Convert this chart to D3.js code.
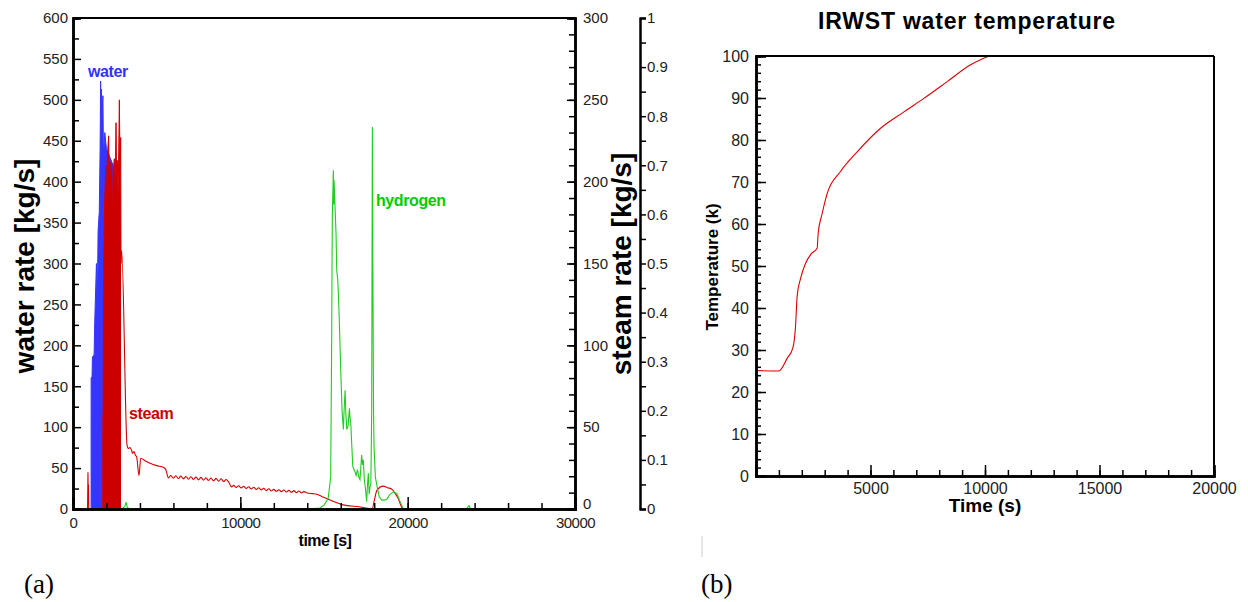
<!DOCTYPE html>
<html>
<head>
<meta charset="utf-8">
<script src="https://cdn.jsdelivr.net/npm/d3@7"></script>
<style>
  body { margin: 0; background: #fff; }
  svg { font-family: "Liberation Sans", Arial, sans-serif; }
  .tick text { font-size: 15px; fill: #222; }
  .axis path, .axis line { stroke: #000; }
</style>
</head>
<body>
<div class="vis"></div>
<script>
(function() {
  'use strict';

  // ---- chart (a) data: [time s, value] ----
  // water rate, left axis (kg/s)
  var water = [[1000,0],[1080,0],[1085,160],[1140,162],[1160,186],[1260,188],[1300,230],[1400,300],
    [1450,250],[1500,340],[1570,363],[1620,440],[1650,523],[1680,480],[1700,513],[1740,470],
    [1760,495],[1790,505],[1820,430],[1900,460],[2000,440],[2200,430],[2400,420],[2600,400],
    [2800,380],[2830,0]];

  // steam rate, right axis (kg/s)
  var steam = [[870,0],[895,22.5],[910,8],[925,15],[945,0],[1790,0],[1800,59],[1830,150],
    [1900,190],[1960,210],[2000,185],[2050,215],[2130,228],[2170,200],[2210,212],[2260,195],
    [2310,211],[2360,180],[2410,207],[2470,214],[2520,195],[2570,236],[2610,200],[2650,213],
    [2700,190],[2770,250],[2810,210],[2850,227],[2870,150],[2910,158],[3230,39],[3300,37],
    [3400,37.5],[3500,36],[3560,34],[3620,35],[3660,35],[3720,33],[3800,32],[3945,20.5],
    [4045,31],[4300,29.5],[4600,28],[5000,26.5],[5400,25.5],[5550,24],[5700,19],[5850,20.5],
    [6000,18.8],[6150,20.3],[6300,18.6],[6450,20.1],[6600,18.4],[6750,19.9],[6900,18.2],
    [7050,19.7],[7200,18],[7350,19.5],[7500,17.8],[7650,19.3],[7800,17.6],[7950,19.1],
    [8100,17.4],[8250,18.9],[8400,17.2],[8550,18.7],[8700,17],[8850,18.5],[9000,16.8],
    [9150,18],[9300,16.5],[9480,13.5],[9600,14.5],[9750,13.2],[9900,14.2],[10050,12.9],
    [10200,13.9],[10350,12.6],[10500,13.6],[10650,12.3],[10800,13.3],[10950,12],[11100,13],
    [11250,11.7],[11400,12.7],[11550,11.2],[11700,12.4],[11850,11],[12000,12],[12150,10.8],
    [12300,11.8],[12450,10.6],[12600,11.6],[12750,10.4],[12900,11.4],[13050,10.2],[13200,11.2],
    [13350,10],[13500,11],[13650,9.8],[13800,10.6],[14000,9.8],[14300,9.4],[14570,9],
    [14900,7.5],[15360,5.5],[16140,2.5],[17150,1.25],[17880,0],[18000,5],[18170,11.5],
    [18530,14],[18800,13],[19070,12],[19250,9.5],[19430,6.5],[19600,2],[19730,0],[30000,0]];

  // hydrogen rate, third axis
  var hydrogen = [[2900,0],[3100,0.005],[3170,0.014],[3250,0.003],[3400,0],[14000,0],
    [14760,0.002],[15000,0.008],[15250,0.022],[15400,0.065],[15460,0.35],[15480,0.5],
    [15500,0.6],[15560,0.69],[15580,0.62],[15600,0.67],[15660,0.615],[15720,0.56],
    [15760,0.487],[15820,0.467],[15870,0.43],[15920,0.378],[16000,0.283],[16080,0.2],
    [16160,0.162],[16200,0.2],[16260,0.242],[16300,0.2],[16360,0.162],[16440,0.17],
    [16520,0.205],[16560,0.185],[16600,0.175],[16660,0.13],[16720,0.087],[16800,0.08],
    [16860,0.075],[16920,0.068],[17000,0.08],[17080,0.065],[17150,0.06],[17200,0.085],
    [17250,0.11],[17300,0.09],[17350,0.1],[17410,0.06],[17480,0.04],[17550,0.015],
    [17600,0.05],[17650,0.073],[17700,0.03],[17750,0.045],[17800,0.05],[17850,0.2],
    [17890,0.778],[17920,0.5],[17960,0.2],[17990,0.127],[18070,0.065],[18190,0.043],
    [18300,0.025],[18450,0.018],[18600,0.018],[18750,0.02],[18950,0.03],[19150,0.035],
    [19350,0.032],[19550,0.015],[19740,0],[23500,0],[23670,0.007],[23750,0]];

  // ---- chart (b) data: IRWST water temperature ----
  var tempTime = [0,995,1360,1610,1725,1800,1945,2160,2410,2670,2715,2890,3110,3690,4420,
    5440,6460,7330,8350,9370,10170];
  var tempValue = [25.1,25,28,30.5,35.5,43,47,50.6,52.9,54.2,57.8,62.5,67.3,72.5,77.2,
    82.8,86.7,89.9,93.9,97.9,100];

  var xTicksA = [0,10000,20000,30000];
  var yTicksWater = d3.range(0,601,50);
  var yTicksSteam = d3.range(0,301,50);
  var yTicksH2 = d3.range(0,1.01,0.1);
  var xTicksB = [5000,10000,15000,20000];
  var yTicksB = d3.range(0,101,10);

  var svg = d3.select('.vis').append('svg')
    .attr('width', 1248)
    .attr('height', 602);

  // ================= chart (a) =================
  var a = {left: 73, right: 575, top: 18, bottom: 509};
  var x = d3.scaleLinear().domain([0,30000]).range([a.left, a.right]);
  var yW = d3.scaleLinear().domain([0,600]).range([a.bottom, a.top]);
  var yS = d3.scaleLinear().domain([0,300]).range([a.bottom, a.top]);
  var yH = d3.scaleLinear().domain([0,1]).range([a.bottom, a.top]);

  svg.append('defs').append('clipPath').attr('id', 'clipA')
    .append('rect').attr('x', a.left).attr('y', a.top)
    .attr('width', a.right - a.left).attr('height', a.bottom - a.top);

  var plotA = svg.append('g').attr('clip-path', 'url(#clipA)');

  var areaW = d3.area().x(function(d) { return x(d[0]); })
    .y0(yW(0)).y1(function(d) { return yW(d[1]); });
  var lineW = d3.line().x(function(d) { return x(d[0]); }).y(function(d) { return yW(d[1]); });
  plotA.append('path').datum(water).attr('d', areaW).attr('fill', '#3535ff');
  plotA.append('path').datum(water).attr('d', lineW).attr('fill', 'none')
    .attr('stroke', '#3535ff').attr('stroke-width', 1);

  var burst = steam.filter(function(d) { return d[0] >= 1790 && d[0] <= 2870; });
  var tail = steam.filter(function(d) { return d[0] >= 2870; });
  var early = steam.filter(function(d) { return d[0] <= 1800; });
  var areaS = d3.area().x(function(d) { return x(d[0]); })
    .y0(yS(0)).y1(function(d) { return yS(d[1]); });
  var lineS = d3.line().x(function(d) { return x(d[0]); }).y(function(d) { return yS(d[1]); });
  plotA.append('path').datum(burst).attr('d', areaS).attr('fill', '#cc0000');
  plotA.append('path').datum(burst).attr('d', lineS).attr('fill', 'none')
    .attr('stroke', '#d40000').attr('stroke-width', 1);
  plotA.append('path').datum(early).attr('d', lineS).attr('fill', 'none')
    .attr('stroke', '#d40000').attr('stroke-width', 1.1);
  plotA.append('path').datum(tail).attr('d', lineS.curve(d3.curveMonotoneX)).attr('fill', 'none')
    .attr('stroke', '#d40000').attr('stroke-width', 1.1);

  var lineH = d3.line().x(function(d) { return x(d[0]); }).y(function(d) { return yH(d[1]); });
  plotA.append('path').datum(hydrogen).attr('d', lineH).attr('fill', 'none')
    .attr('stroke', '#1fcc1f').attr('stroke-width', 1.1);

  // frame top
  svg.append('line').attr('x1', a.left).attr('x2', a.right).attr('y1', a.top).attr('y2', a.top)
    .attr('stroke', '#000').attr('stroke-width', 2);

  function fmt(d) { return d3.format('~g')(+d.toFixed(2)); }

  // left axis
  var gl = svg.append('g').attr('class', 'axis').attr('transform', 'translate(' + a.left + ',0)');
  gl.call(d3.axisLeft(yW).tickValues(d3.range(25,600,50)).tickSize(-6).tickFormat(''));
  gl.append('g').call(d3.axisLeft(yW).tickValues(yTicksWater).tickSize(-8).tickPadding(5).tickFormat(fmt));
  gl.selectAll('path.domain').attr('stroke-width', 2.5);
  gl.selectAll('line').attr('stroke-width', 1.5);

  // bottom axis
  var gb = svg.append('g').attr('class', 'axis').attr('transform', 'translate(0,' + a.bottom + ')');
  gb.call(d3.axisBottom(x).tickValues(d3.range(2000,30000,2000)).tickSize(-6).tickFormat(''));
  gb.append('g').call(d3.axisBottom(x).tickValues(xTicksA).tickSize(-12).tickPadding(5).tickFormat(fmt));
  gb.selectAll('path.domain').attr('stroke-width', 2.5);
  gb.selectAll('line').attr('stroke-width', 1.5);
  gb.selectAll('.tick text').attr('dy', '0.9em').attr('letter-spacing', '-0.5px');

  // right axis (steam)
  var gr = svg.append('g').attr('class', 'axis').attr('transform', 'translate(' + a.right + ',0)');
  gr.call(d3.axisRight(yS).tickValues(d3.range(0,300,10)).tickSize(-6).tickFormat(''));
  gr.append('g').call(d3.axisRight(yS).tickValues(yTicksSteam).tickSize(-8).tickPadding(8).tickFormat(fmt));
  gr.selectAll('path.domain').attr('stroke-width', 2.5);
  gr.selectAll('line').attr('stroke-width', 1.5);
  // keep the "0" clear of the "30000" below it
  gr.selectAll('.tick text').filter(function(d) { return d === 0; }).attr('dy', '-0.05em');

  // third axis (hydrogen)
  var gh = svg.append('g').attr('class', 'axis').attr('transform', 'translate(640,0)');
  gh.call(d3.axisRight(yH).tickValues(d3.range(0.05,1,0.1)).tickSize(6).tickFormat(''));
  gh.append('g').call(d3.axisRight(yH).tickValues(yTicksH2).tickSize(6).tickPadding(1).tickFormat(fmt));
  gh.selectAll('path.domain').attr('stroke-width', 2);
  gh.selectAll('line').attr('stroke-width', 1.5);

  // titles
  svg.append('text').attr('transform', 'translate(34,266) rotate(-90)')
    .attr('text-anchor', 'middle').attr('font-size', 28).attr('font-weight', 'bold')
    .text('water rate [kg/s]');
  svg.append('text').attr('transform', 'translate(631,264) rotate(-90)')
    .attr('text-anchor', 'middle').attr('font-size', 28).attr('font-weight', 'bold')
    .text('steam rate [kg/s]');
  svg.append('text').attr('x', 325).attr('y', 546).attr('text-anchor', 'middle')
    .attr('font-size', 16).attr('font-weight', 'bold').attr('letter-spacing', '-0.5px').text('time [s]');

  svg.append('text').attr('x', 88).attr('y', 77).attr('font-size', 16).attr('font-weight', 'bold')
    .attr('letter-spacing', '-0.4px').attr('fill', '#3333ff').text('water');
  svg.append('text').attr('x', 129).attr('y', 419).attr('font-size', 16).attr('font-weight', 'bold')
    .attr('letter-spacing', '-0.4px').attr('fill', '#cc0000').text('steam');
  svg.append('text').attr('x', 376).attr('y', 206).attr('font-size', 16).attr('font-weight', 'bold')
    .attr('letter-spacing', '-0.4px').attr('fill', '#00cc00').text('hydrogen');

  // ================= chart (b) =================
  var b = {left: 756, right: 1214, top: 56, bottom: 476};
  var xb = d3.scaleLinear().domain([0,20000]).range([b.left, b.right]);
  var yb = d3.scaleLinear().domain([0,100]).range([b.bottom, b.top]);

  var temp = tempTime.map(function(t, i) { return [t, tempValue[i]]; });
  svg.append('path').datum(temp)
    .attr('d', d3.line().curve(d3.curveMonotoneX)
      .x(function(d) { return xb(d[0]); }).y(function(d) { return yb(d[1]); }))
    .attr('fill', 'none').attr('stroke', '#dd0000').attr('stroke-width', 1.1);

  svg.append('line').attr('x1', b.left).attr('x2', b.right).attr('y1', b.top).attr('y2', b.top)
    .attr('stroke', '#000').attr('stroke-width', 2);
  svg.append('line').attr('x1', b.right).attr('x2', b.right).attr('y1', b.top).attr('y2', b.bottom)
    .attr('stroke', '#000').attr('stroke-width', 2);

  var gbl = svg.append('g').attr('class', 'axis').attr('transform', 'translate(' + b.left + ',0)');
  gbl.call(d3.axisLeft(yb).tickValues(d3.range(2,100,2)).tickSize(-5).tickFormat(''));
  gbl.append('g').call(d3.axisLeft(yb).tickValues(yTicksB).tickSize(-10).tickPadding(7).tickFormat(fmt));
  gbl.selectAll('path.domain').attr('stroke-width', 2.5);
  gbl.selectAll('line').attr('stroke-width', 1.5);
  gbl.selectAll('.tick text').style('font-size', '16px');

  var gbb = svg.append('g').attr('class', 'axis').attr('transform', 'translate(0,' + b.bottom + ')');
  gbb.call(d3.axisBottom(xb).tickValues(d3.range(1000,20000,1000)).tickSize(-6).tickFormat(''));
  gbb.append('g').call(d3.axisBottom(xb).tickValues(xTicksB).tickSize(-11).tickPadding(4).tickFormat(fmt));
  gbb.selectAll('path.domain').attr('stroke-width', 2.5);
  gbb.selectAll('line').attr('stroke-width', 1.5);
  gbb.selectAll('.tick text').attr('dy', '0.9em').style('font-size', '16px');

  svg.append('text').attr('x', 967).attr('y', 29).attr('text-anchor', 'middle')
    .attr('font-size', 23).attr('font-weight', 'bold').attr('letter-spacing', '0.8px')
    .text('IRWST water temperature');
  svg.append('text').attr('transform', 'translate(718,267) rotate(-90)')
    .attr('text-anchor', 'middle').attr('font-size', 17).attr('font-weight', 'bold').text('Temperature (k)');
  svg.append('text').attr('x', 985).attr('y', 512).attr('text-anchor', 'middle')
    .attr('font-size', 19).attr('font-weight', 'bold').text('Time (s)');

  // captions
  svg.append('line').attr('x1', 702).attr('x2', 702).attr('y1', 536).attr('y2', 557)
    .attr('stroke', '#ccc').attr('stroke-width', 1);
  svg.append('text').attr('x', 24).attr('y', 593).attr('font-family', '"Liberation Serif", serif')
    .attr('font-size', 27).text('(a)');
  svg.append('text').attr('x', 701).attr('y', 593).attr('font-family', '"Liberation Serif", serif')
    .attr('font-size', 27).text('(b)');
}());
</script>
</body>
</html>
